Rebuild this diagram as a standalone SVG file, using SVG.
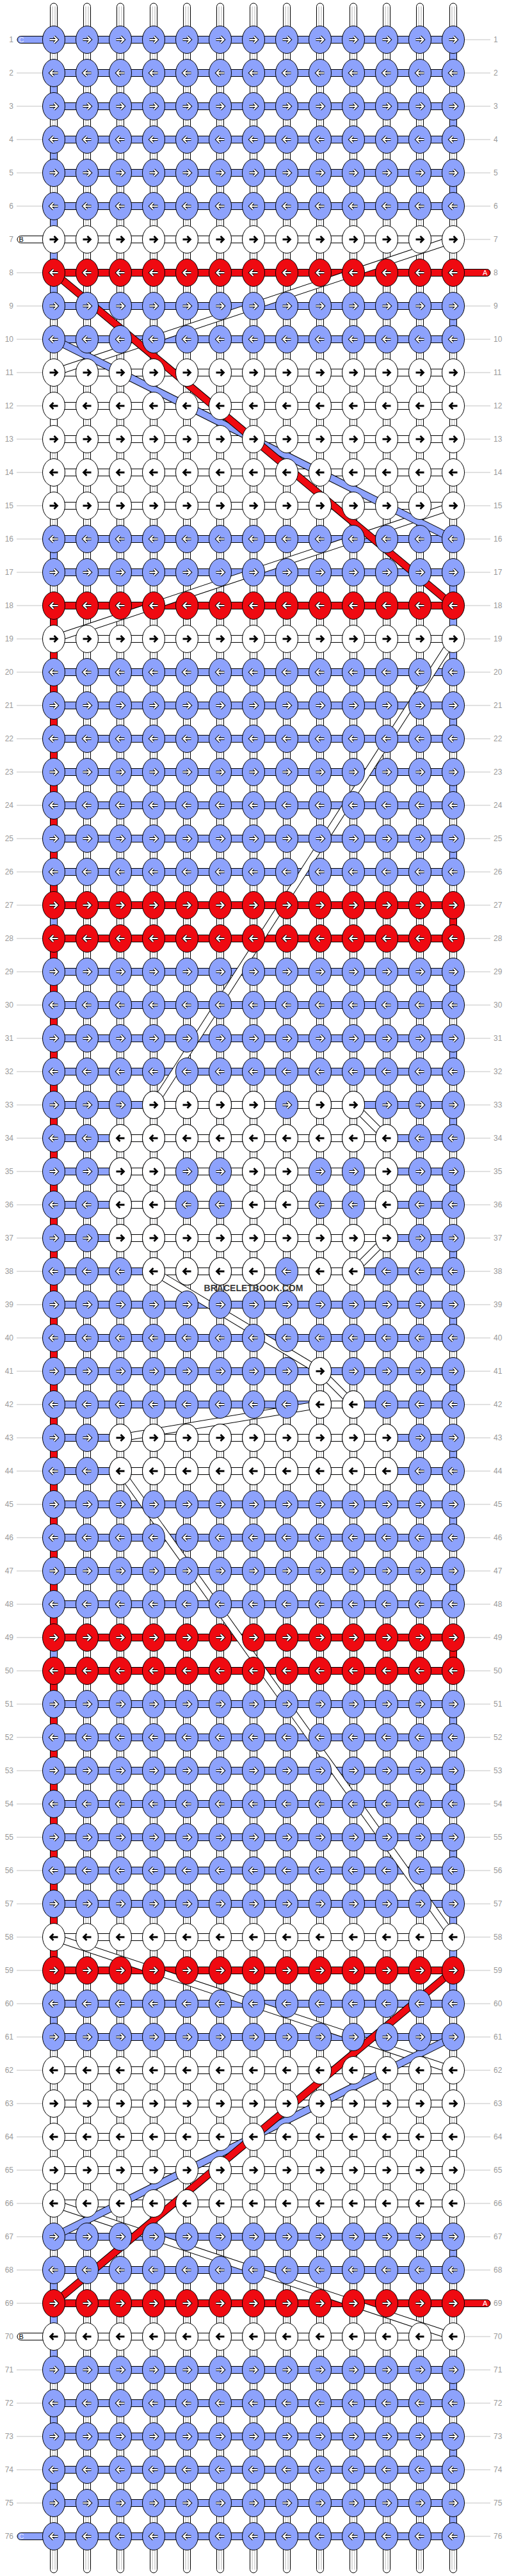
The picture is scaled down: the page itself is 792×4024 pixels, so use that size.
<svg xmlns="http://www.w3.org/2000/svg" xmlns:xlink="http://www.w3.org/1999/xlink" width="792" height="4024" viewBox="0 0 792 4024">
<style>
.n{font-family:"Liberation Sans",Arial,sans-serif;font-size:12px;fill:#9a9a9a}
.nl{text-anchor:end}
.ec{fill:#8DA2FC;stroke:#000;stroke-width:1}
.ea{fill:#EF0A11;stroke:#000;stroke-width:1}
.eb{fill:#fff;stroke:#000;stroke-width:1}
.pl{font-family:"Liberation Sans",Arial,sans-serif;font-size:11px}
.wm{font-family:"Liberation Sans",Arial,sans-serif;font-size:14px;font-weight:bold;fill:#3a3a3a;text-anchor:middle}
</style>
<defs>
<pattern id="gl" patternUnits="userSpaceOnUse" x="0" y="36" width="10" height="52"><rect x="0" y="25.5" width="10" height="1" fill="#c4c4c4"/></pattern>
<g id="vs"><rect x="-5.5" y="5" width="11" height="4014" rx="5.5" fill="#fff" stroke="#000"/><path d="M-2,10V4014M2,10V4014" stroke="#b4b4b4" fill="none"/></g>
<path id="pR" d="M-6.5,0H5.5M0.5,-5L5.5,0L0.5,5"/>
<path id="pL" d="M6.5,0H-5.5M-0.5,-5L-5.5,0L-0.5,5"/>
<g id="oR" fill="none"><use href="#pR" stroke="#000" stroke-width="4.2"/><use href="#pR" stroke="#fff" stroke-width="2.2"/></g>
<g id="oL" fill="none"><use href="#pL" stroke="#000" stroke-width="4.2"/><use href="#pL" stroke="#fff" stroke-width="2.2"/></g>
<g id="kCR"><ellipse rx="17.5" ry="21.5" fill="#8DA2FC" stroke="#000"/><use href="#oR"/></g>
<g id="kCL"><ellipse rx="17.5" ry="21.5" fill="#8DA2FC" stroke="#000"/><use href="#oL"/></g>
<g id="kAR"><ellipse rx="17.5" ry="21.5" fill="#EF0A11" stroke="#000"/><use href="#oR"/></g>
<g id="kAL"><ellipse rx="17.5" ry="21.5" fill="#EF0A11" stroke="#000"/><use href="#oL"/></g>
<g id="kBR"><ellipse rx="17.5" ry="21.5" fill="#fff" stroke="#000"/><use href="#pR" fill="none" stroke="#000" stroke-width="2.8"/></g>
<g id="kBL"><ellipse rx="17.5" ry="21.5" fill="#fff" stroke="#000"/><use href="#pL" fill="none" stroke="#000" stroke-width="2.8"/></g>
<g id="RCR"><use href="#kCR" x="84"/><use href="#kCR" x="136"/><use href="#kCR" x="188"/><use href="#kCR" x="240"/><use href="#kCR" x="292"/><use href="#kCR" x="344"/><use href="#kCR" x="396"/><use href="#kCR" x="448"/><use href="#kCR" x="500"/><use href="#kCR" x="552"/><use href="#kCR" x="604"/><use href="#kCR" x="656"/><use href="#kCR" x="708"/></g>
<g id="RCL"><use href="#kCL" x="84"/><use href="#kCL" x="136"/><use href="#kCL" x="188"/><use href="#kCL" x="240"/><use href="#kCL" x="292"/><use href="#kCL" x="344"/><use href="#kCL" x="396"/><use href="#kCL" x="448"/><use href="#kCL" x="500"/><use href="#kCL" x="552"/><use href="#kCL" x="604"/><use href="#kCL" x="656"/><use href="#kCL" x="708"/></g>
<g id="RAR"><use href="#kAR" x="84"/><use href="#kAR" x="136"/><use href="#kAR" x="188"/><use href="#kAR" x="240"/><use href="#kAR" x="292"/><use href="#kAR" x="344"/><use href="#kAR" x="396"/><use href="#kAR" x="448"/><use href="#kAR" x="500"/><use href="#kAR" x="552"/><use href="#kAR" x="604"/><use href="#kAR" x="656"/><use href="#kAR" x="708"/></g>
<g id="RAL"><use href="#kAL" x="84"/><use href="#kAL" x="136"/><use href="#kAL" x="188"/><use href="#kAL" x="240"/><use href="#kAL" x="292"/><use href="#kAL" x="344"/><use href="#kAL" x="396"/><use href="#kAL" x="448"/><use href="#kAL" x="500"/><use href="#kAL" x="552"/><use href="#kAL" x="604"/><use href="#kAL" x="656"/><use href="#kAL" x="708"/></g>
<g id="W9R"><use href="#kBR" x="188"/><use href="#kBR" x="240"/><use href="#kBR" x="292"/><use href="#kBR" x="344"/><use href="#kBR" x="396"/><use href="#kBR" x="448"/><use href="#kBR" x="500"/><use href="#kBR" x="552"/><use href="#kBR" x="604"/></g>
<g id="W9L"><use href="#kBL" x="188"/><use href="#kBL" x="240"/><use href="#kBL" x="292"/><use href="#kBL" x="344"/><use href="#kBL" x="396"/><use href="#kBL" x="448"/><use href="#kBL" x="500"/><use href="#kBL" x="552"/><use href="#kBL" x="604"/></g>
<g id="RBR"><use href="#kBR" x="84"/><use href="#kBR" x="136"/><use href="#W9R"/><use href="#kBR" x="656"/><use href="#kBR" x="708"/></g>
<g id="RBL"><use href="#kBL" x="84"/><use href="#kBL" x="136"/><use href="#W9L"/><use href="#kBL" x="656"/><use href="#kBL" x="708"/></g>
<rect id="BC" x="84" y="-5.5" width="624" height="11" fill="#8DA2FC" stroke="#000"/>
<rect id="BA" x="84" y="-5.5" width="624" height="11" fill="#EF0A11" stroke="#000"/>
<rect id="BB" x="84" y="-5.5" width="624" height="11" fill="#fff" stroke="#000"/>
</defs>
<rect width="792" height="4024" fill="#fff"/>
<g id="labels">
<rect x="26" y="40" width="40" height="3944" fill="url(#gl)"/>
<rect x="725" y="40" width="41" height="3944" fill="url(#gl)"/>
<g class="n nl">
<text x="21" y="66.3">1</text><text x="21" y="118.3">2</text><text x="21" y="170.3">3</text><text x="21" y="222.3">4</text><text x="21" y="274.3">5</text><text x="21" y="326.3">6</text><text x="21" y="378.3">7</text><text x="21" y="430.3">8</text><text x="21" y="482.3">9</text><text x="21" y="534.3">10</text><text x="21" y="586.3">11</text><text x="21" y="638.3">12</text><text x="21" y="690.3">13</text><text x="21" y="742.3">14</text><text x="21" y="794.3">15</text><text x="21" y="846.3">16</text><text x="21" y="898.3">17</text><text x="21" y="950.3">18</text><text x="21" y="1002.3">19</text><text x="21" y="1054.3">20</text><text x="21" y="1106.3">21</text><text x="21" y="1158.3">22</text><text x="21" y="1210.3">23</text><text x="21" y="1262.3">24</text><text x="21" y="1314.3">25</text><text x="21" y="1366.3">26</text><text x="21" y="1418.3">27</text><text x="21" y="1470.3">28</text><text x="21" y="1522.3">29</text><text x="21" y="1574.3">30</text><text x="21" y="1626.3">31</text><text x="21" y="1678.3">32</text><text x="21" y="1730.3">33</text><text x="21" y="1782.3">34</text><text x="21" y="1834.3">35</text><text x="21" y="1886.3">36</text><text x="21" y="1938.3">37</text><text x="21" y="1990.3">38</text><text x="21" y="2042.3">39</text><text x="21" y="2094.3">40</text><text x="21" y="2146.3">41</text><text x="21" y="2198.3">42</text><text x="21" y="2250.3">43</text><text x="21" y="2302.3">44</text><text x="21" y="2354.3">45</text><text x="21" y="2406.3">46</text><text x="21" y="2458.3">47</text><text x="21" y="2510.3">48</text><text x="21" y="2562.3">49</text><text x="21" y="2614.3">50</text><text x="21" y="2666.3">51</text><text x="21" y="2718.3">52</text><text x="21" y="2770.3">53</text><text x="21" y="2822.3">54</text><text x="21" y="2874.3">55</text><text x="21" y="2926.3">56</text><text x="21" y="2978.3">57</text><text x="21" y="3030.3">58</text><text x="21" y="3082.3">59</text><text x="21" y="3134.3">60</text><text x="21" y="3186.3">61</text><text x="21" y="3238.3">62</text><text x="21" y="3290.3">63</text><text x="21" y="3342.3">64</text><text x="21" y="3394.3">65</text><text x="21" y="3446.3">66</text><text x="21" y="3498.3">67</text><text x="21" y="3550.3">68</text><text x="21" y="3602.3">69</text><text x="21" y="3654.3">70</text><text x="21" y="3706.3">71</text><text x="21" y="3758.3">72</text><text x="21" y="3810.3">73</text><text x="21" y="3862.3">74</text><text x="21" y="3914.3">75</text><text x="21" y="3966.3">76</text>
</g>
<g class="n">
<text x="771" y="66.3">1</text><text x="771" y="118.3">2</text><text x="771" y="170.3">3</text><text x="771" y="222.3">4</text><text x="771" y="274.3">5</text><text x="771" y="326.3">6</text><text x="771" y="378.3">7</text><text x="771" y="430.3">8</text><text x="771" y="482.3">9</text><text x="771" y="534.3">10</text><text x="771" y="586.3">11</text><text x="771" y="638.3">12</text><text x="771" y="690.3">13</text><text x="771" y="742.3">14</text><text x="771" y="794.3">15</text><text x="771" y="846.3">16</text><text x="771" y="898.3">17</text><text x="771" y="950.3">18</text><text x="771" y="1002.3">19</text><text x="771" y="1054.3">20</text><text x="771" y="1106.3">21</text><text x="771" y="1158.3">22</text><text x="771" y="1210.3">23</text><text x="771" y="1262.3">24</text><text x="771" y="1314.3">25</text><text x="771" y="1366.3">26</text><text x="771" y="1418.3">27</text><text x="771" y="1470.3">28</text><text x="771" y="1522.3">29</text><text x="771" y="1574.3">30</text><text x="771" y="1626.3">31</text><text x="771" y="1678.3">32</text><text x="771" y="1730.3">33</text><text x="771" y="1782.3">34</text><text x="771" y="1834.3">35</text><text x="771" y="1886.3">36</text><text x="771" y="1938.3">37</text><text x="771" y="1990.3">38</text><text x="771" y="2042.3">39</text><text x="771" y="2094.3">40</text><text x="771" y="2146.3">41</text><text x="771" y="2198.3">42</text><text x="771" y="2250.3">43</text><text x="771" y="2302.3">44</text><text x="771" y="2354.3">45</text><text x="771" y="2406.3">46</text><text x="771" y="2458.3">47</text><text x="771" y="2510.3">48</text><text x="771" y="2562.3">49</text><text x="771" y="2614.3">50</text><text x="771" y="2666.3">51</text><text x="771" y="2718.3">52</text><text x="771" y="2770.3">53</text><text x="771" y="2822.3">54</text><text x="771" y="2874.3">55</text><text x="771" y="2926.3">56</text><text x="771" y="2978.3">57</text><text x="771" y="3030.3">58</text><text x="771" y="3082.3">59</text><text x="771" y="3134.3">60</text><text x="771" y="3186.3">61</text><text x="771" y="3238.3">62</text><text x="771" y="3290.3">63</text><text x="771" y="3342.3">64</text><text x="771" y="3394.3">65</text><text x="771" y="3446.3">66</text><text x="771" y="3498.3">67</text><text x="771" y="3550.3">68</text><text x="771" y="3602.3">69</text><text x="771" y="3654.3">70</text><text x="771" y="3706.3">71</text><text x="771" y="3758.3">72</text><text x="771" y="3810.3">73</text><text x="771" y="3862.3">74</text><text x="771" y="3914.3">75</text><text x="771" y="3966.3">76</text>
</g>
</g>
<g id="strings">
<use href="#vs" x="84"/><use href="#vs" x="136"/><use href="#vs" x="188"/><use href="#vs" x="240"/><use href="#vs" x="292"/><use href="#vs" x="344"/><use href="#vs" x="396"/><use href="#vs" x="448"/><use href="#vs" x="500"/><use href="#vs" x="552"/><use href="#vs" x="604"/><use href="#vs" x="656"/><use href="#vs" x="708"/>
</g>
<g id="edge-turns">
<rect class="ea" x="78.5" y="946" width="11" height="468"/>
<rect class="ea" x="78.5" y="1466" width="11" height="1092"/>
<rect class="ea" x="78.5" y="2610" width="11" height="468"/>
<rect class="ec" x="78.5" y="114" width="11" height="52"/>
<rect class="ec" x="78.5" y="218" width="11" height="52"/>
<rect class="ec" x="78.5" y="322" width="11" height="156"/>
<rect class="ec" x="78.5" y="842" width="11" height="52"/>
<rect class="ec" x="78.5" y="1414" width="11" height="52"/>
<rect class="ec" x="78.5" y="2558" width="11" height="52"/>
<rect class="ec" x="78.5" y="3130" width="11" height="52"/>
<rect class="ec" x="78.5" y="3546" width="11" height="156"/>
<rect class="ec" x="78.5" y="3754" width="11" height="52"/>
<rect class="ec" x="78.5" y="3858" width="11" height="52"/>
<rect class="eb" x="78.5" y="634" width="11" height="52"/>
<rect class="eb" x="78.5" y="738" width="11" height="52"/>
<rect class="eb" x="78.5" y="3286" width="11" height="52"/>
<rect class="eb" x="78.5" y="3390" width="11" height="52"/>
<rect class="ea" x="702.5" y="1414" width="11" height="52"/>
<rect class="ea" x="702.5" y="2558" width="11" height="52"/>
<rect class="ec" x="702.5" y="62" width="11" height="52"/>
<rect class="ec" x="702.5" y="166" width="11" height="52"/>
<rect class="ec" x="702.5" y="270" width="11" height="52"/>
<rect class="ec" x="702.5" y="478" width="11" height="52"/>
<rect class="ec" x="702.5" y="894" width="11" height="156"/>
<rect class="ec" x="702.5" y="1102" width="11" height="52"/>
<rect class="ec" x="702.5" y="1206" width="11" height="52"/>
<rect class="ec" x="702.5" y="1310" width="11" height="52"/>
<rect class="ec" x="702.5" y="1518" width="11" height="52"/>
<rect class="ec" x="702.5" y="1622" width="11" height="52"/>
<rect class="ec" x="702.5" y="1726" width="11" height="52"/>
<rect class="ec" x="702.5" y="1830" width="11" height="52"/>
<rect class="ec" x="702.5" y="1934" width="11" height="52"/>
<rect class="ec" x="702.5" y="2038" width="11" height="52"/>
<rect class="ec" x="702.5" y="2142" width="11" height="52"/>
<rect class="ec" x="702.5" y="2246" width="11" height="52"/>
<rect class="ec" x="702.5" y="2350" width="11" height="52"/>
<rect class="ec" x="702.5" y="2454" width="11" height="52"/>
<rect class="ec" x="702.5" y="2662" width="11" height="52"/>
<rect class="ec" x="702.5" y="2766" width="11" height="52"/>
<rect class="ec" x="702.5" y="2870" width="11" height="52"/>
<rect class="ec" x="702.5" y="2974" width="11" height="156"/>
<rect class="ec" x="702.5" y="3494" width="11" height="52"/>
<rect class="ec" x="702.5" y="3702" width="11" height="52"/>
<rect class="ec" x="702.5" y="3806" width="11" height="52"/>
<rect class="ec" x="702.5" y="3910" width="11" height="52"/>
<rect class="eb" x="702.5" y="582" width="11" height="52"/>
<rect class="eb" x="702.5" y="686" width="11" height="52"/>
<rect class="eb" x="702.5" y="3234" width="11" height="52"/>
<rect class="eb" x="702.5" y="3338" width="11" height="52"/>
</g>
<g id="bands">
<use href="#BC" y="62"/><use href="#BC" y="114"/><use href="#BC" y="166"/><use href="#BC" y="218"/><use href="#BC" y="270"/><use href="#BC" y="322"/><use href="#BB" y="374"/><use href="#BA" y="426"/><use href="#BC" y="478"/><use href="#BC" y="530"/><use href="#BB" y="582"/><use href="#BB" y="634"/><use href="#BB" y="686"/><use href="#BB" y="738"/><use href="#BB" y="790"/><use href="#BC" y="842"/><use href="#BC" y="894"/><use href="#BA" y="946"/><use href="#BB" y="998"/><use href="#BC" y="1050"/><use href="#BC" y="1102"/><use href="#BC" y="1154"/><use href="#BC" y="1206"/><use href="#BC" y="1258"/><use href="#BC" y="1310"/><use href="#BC" y="1362"/><use href="#BA" y="1414"/><use href="#BA" y="1466"/><use href="#BC" y="1518"/><use href="#BC" y="1570"/><use href="#BC" y="1622"/><use href="#BC" y="1674"/><use href="#BC" y="1726"/><use href="#BC" y="1778"/><use href="#BC" y="1830"/><use href="#BC" y="1882"/><use href="#BC" y="1934"/><use href="#BC" y="1986"/><use href="#BC" y="2038"/><use href="#BC" y="2090"/><use href="#BC" y="2142"/><use href="#BC" y="2194"/><use href="#BC" y="2246"/><use href="#BC" y="2298"/><use href="#BC" y="2350"/><use href="#BC" y="2402"/><use href="#BC" y="2454"/><use href="#BC" y="2506"/><use href="#BA" y="2558"/><use href="#BA" y="2610"/><use href="#BC" y="2662"/><use href="#BC" y="2714"/><use href="#BC" y="2766"/><use href="#BC" y="2818"/><use href="#BC" y="2870"/><use href="#BC" y="2922"/><use href="#BC" y="2974"/><use href="#BB" y="3026"/><use href="#BA" y="3078"/><use href="#BC" y="3130"/><use href="#BC" y="3182"/><use href="#BB" y="3234"/><use href="#BB" y="3286"/><use href="#BB" y="3338"/><use href="#BB" y="3390"/><use href="#BB" y="3442"/><use href="#BC" y="3494"/><use href="#BC" y="3546"/><use href="#BA" y="3598"/><use href="#BB" y="3650"/><use href="#BC" y="3702"/><use href="#BC" y="3754"/><use href="#BC" y="3806"/><use href="#BC" y="3858"/><use href="#BC" y="3910"/><use href="#BC" y="3962"/>
<g fill="#fff" stroke="#000">
<rect x="240" y="1720.5" width="312" height="11"/>
<rect x="188" y="1772.5" width="416" height="11"/>
<rect x="188" y="1824.5" width="416" height="11"/>
<rect x="188" y="1876.5" width="416" height="11"/>
<rect x="188" y="1928.5" width="416" height="11"/>
<rect x="240" y="1980.5" width="312" height="11"/>
<rect x="500" y="2188.5" width="52" height="11"/>
<rect x="188" y="2240.5" width="416" height="11"/>
<rect x="188" y="2292.5" width="416" height="11"/>
</g>
</g>
<g id="ends">
<rect x="27" y="56.5" width="60" height="11" rx="5.5" fill="#8DA2FC" stroke="#000"/>
<text class="pl" x="29.5" y="66" fill="#e8ecff">C</text>
<rect x="27" y="368.5" width="60" height="11" rx="5.5" fill="#fff" stroke="#000"/>
<text class="pl" x="29.5" y="378" fill="#000">B</text>
<rect x="705" y="420.5" width="61" height="11" rx="5.5" fill="#EF0A11" stroke="#000"/>
<text class="pl" x="754" y="430" fill="#fff">A</text>
<rect x="705" y="3592.5" width="61" height="11" rx="5.5" fill="#EF0A11" stroke="#000"/>
<text class="pl" x="754" y="3602" fill="#fff">A</text>
<rect x="27" y="3644.5" width="60" height="11" rx="5.5" fill="#fff" stroke="#000"/>
<text class="pl" x="29.5" y="3654" fill="#000">B</text>
<rect x="27" y="3956.5" width="60" height="11" rx="5.5" fill="#8DA2FC" stroke="#000"/>
<text class="pl" x="29.5" y="3966" fill="#e8ecff">C</text>
</g>
<g id="connectors" fill="none">
<g stroke-width="10"></g>
<line x1="708" y1="374" x2="84" y2="582" stroke="#000" stroke-width="12"/><line x1="708" y1="374" x2="84" y2="582" stroke="#fff" stroke-width="10"/>
<line x1="708" y1="790" x2="84" y2="998" stroke="#000" stroke-width="12"/><line x1="708" y1="790" x2="84" y2="998" stroke="#fff" stroke-width="10"/>
<line x1="708" y1="998" x2="240" y2="1726" stroke="#000" stroke-width="12"/><line x1="708" y1="998" x2="240" y2="1726" stroke="#fff" stroke-width="10"/>
<line x1="552" y1="1726" x2="604" y2="1778" stroke="#000" stroke-width="12"/><line x1="552" y1="1726" x2="604" y2="1778" stroke="#fff" stroke-width="10"/>
<line x1="604" y1="1934" x2="552" y2="1986" stroke="#000" stroke-width="12"/><line x1="604" y1="1934" x2="552" y2="1986" stroke="#fff" stroke-width="10"/>
<line x1="240" y1="1986" x2="500" y2="2142" stroke="#000" stroke-width="12"/><line x1="240" y1="1986" x2="500" y2="2142" stroke="#fff" stroke-width="10"/>
<line x1="500" y1="2142" x2="552" y2="2194" stroke="#000" stroke-width="12"/><line x1="500" y1="2142" x2="552" y2="2194" stroke="#fff" stroke-width="10"/>
<line x1="500" y1="2194" x2="188" y2="2246" stroke="#000" stroke-width="12"/><line x1="500" y1="2194" x2="188" y2="2246" stroke="#fff" stroke-width="10"/>
<line x1="188" y1="2298" x2="708" y2="3026" stroke="#000" stroke-width="12"/><line x1="188" y1="2298" x2="708" y2="3026" stroke="#fff" stroke-width="10"/>
<line x1="84" y1="3026" x2="708" y2="3234" stroke="#000" stroke-width="12"/><line x1="84" y1="3026" x2="708" y2="3234" stroke="#fff" stroke-width="10"/>
<line x1="84" y1="3442" x2="708" y2="3650" stroke="#000" stroke-width="12"/><line x1="84" y1="3442" x2="708" y2="3650" stroke="#fff" stroke-width="10"/>
<line x1="84" y1="530" x2="708" y2="842" stroke="#000" stroke-width="12"/><line x1="84" y1="530" x2="708" y2="842" stroke="#8DA2FC" stroke-width="10"/>
<line x1="708" y1="3182" x2="84" y2="3494" stroke="#000" stroke-width="12"/><line x1="708" y1="3182" x2="84" y2="3494" stroke="#8DA2FC" stroke-width="10"/>
<line x1="84" y1="426" x2="708" y2="946" stroke="#000" stroke-width="12"/><line x1="84" y1="426" x2="708" y2="946" stroke="#EF0A11" stroke-width="10"/>
<line x1="708" y1="3078" x2="84" y2="3598" stroke="#000" stroke-width="12"/><line x1="708" y1="3078" x2="84" y2="3598" stroke="#EF0A11" stroke-width="10"/>
</g>
<g id="knots">
<g id="row-1"><use href="#RCR" y="62"/></g>
<g id="row-2"><use href="#RCL" y="114"/></g>
<g id="row-3"><use href="#RCR" y="166"/></g>
<g id="row-4"><use href="#RCL" y="218"/></g>
<g id="row-5"><use href="#RCR" y="270"/></g>
<g id="row-6"><use href="#RCL" y="322"/></g>
<g id="row-7"><use href="#RBR" y="374"/></g>
<g id="row-8"><use href="#RAL" y="426"/></g>
<g id="row-9"><use href="#RCR" y="478"/></g>
<g id="row-10"><use href="#RCL" y="530"/></g>
<g id="row-11"><use href="#RBR" y="582"/></g>
<g id="row-12"><use href="#RBL" y="634"/></g>
<g id="row-13"><use href="#RBR" y="686"/></g>
<g id="row-14"><use href="#RBL" y="738"/></g>
<g id="row-15"><use href="#RBR" y="790"/></g>
<g id="row-16"><use href="#RCL" y="842"/></g>
<g id="row-17"><use href="#RCR" y="894"/></g>
<g id="row-18"><use href="#RAL" y="946"/></g>
<g id="row-19"><use href="#RBR" y="998"/></g>
<g id="row-20"><use href="#RCL" y="1050"/></g>
<g id="row-21"><use href="#RCR" y="1102"/></g>
<g id="row-22"><use href="#RCL" y="1154"/></g>
<g id="row-23"><use href="#RCR" y="1206"/></g>
<g id="row-24"><use href="#RCL" y="1258"/></g>
<g id="row-25"><use href="#RCR" y="1310"/></g>
<g id="row-26"><use href="#RCL" y="1362"/></g>
<g id="row-27"><use href="#RAR" y="1414"/></g>
<g id="row-28"><use href="#RAL" y="1466"/></g>
<g id="row-29"><use href="#RCR" y="1518"/></g>
<g id="row-30"><use href="#RCL" y="1570"/></g>
<g id="row-31"><use href="#RCR" y="1622"/></g>
<g id="row-32"><use href="#RCL" y="1674"/></g>
<g id="row-33"><use href="#RCR" y="1726"/><use href="#kBR" x="240" y="1726"/><use href="#kBR" x="292" y="1726"/><use href="#kBR" x="344" y="1726"/><use href="#kBR" x="396" y="1726"/><use href="#kBR" x="500" y="1726"/><use href="#kBR" x="552" y="1726"/></g>
<g id="row-34"><use href="#RCL" y="1778"/><use href="#W9L" y="1778"/></g>
<g id="row-35"><use href="#RCR" y="1830"/><use href="#kBR" x="188" y="1830"/><use href="#kBR" x="240" y="1830"/><use href="#kBR" x="396" y="1830"/><use href="#kBR" x="448" y="1830"/><use href="#kBR" x="604" y="1830"/></g>
<g id="row-36"><use href="#RCL" y="1882"/><use href="#kBL" x="188" y="1882"/><use href="#kBL" x="240" y="1882"/><use href="#kBL" x="396" y="1882"/><use href="#kBL" x="448" y="1882"/><use href="#kBL" x="604" y="1882"/></g>
<g id="row-37"><use href="#RCR" y="1934"/><use href="#W9R" y="1934"/></g>
<g id="row-38"><use href="#RCL" y="1986"/><use href="#kBL" x="240" y="1986"/><use href="#kBL" x="292" y="1986"/><use href="#kBL" x="344" y="1986"/><use href="#kBL" x="396" y="1986"/><use href="#kBL" x="500" y="1986"/><use href="#kBL" x="552" y="1986"/></g>
<g id="row-39"><use href="#RCR" y="2038"/></g>
<g id="row-40"><use href="#RCL" y="2090"/></g>
<g id="row-41"><use href="#RCR" y="2142"/><use href="#kBR" x="500" y="2142"/></g>
<g id="row-42"><use href="#RCL" y="2194"/><use href="#kBL" x="500" y="2194"/><use href="#kBL" x="552" y="2194"/></g>
<g id="row-43"><use href="#RCR" y="2246"/><use href="#W9R" y="2246"/></g>
<g id="row-44"><use href="#RCL" y="2298"/><use href="#W9L" y="2298"/></g>
<g id="row-45"><use href="#RCR" y="2350"/></g>
<g id="row-46"><use href="#RCL" y="2402"/></g>
<g id="row-47"><use href="#RCR" y="2454"/></g>
<g id="row-48"><use href="#RCL" y="2506"/></g>
<g id="row-49"><use href="#RAR" y="2558"/></g>
<g id="row-50"><use href="#RAL" y="2610"/></g>
<g id="row-51"><use href="#RCR" y="2662"/></g>
<g id="row-52"><use href="#RCL" y="2714"/></g>
<g id="row-53"><use href="#RCR" y="2766"/></g>
<g id="row-54"><use href="#RCL" y="2818"/></g>
<g id="row-55"><use href="#RCR" y="2870"/></g>
<g id="row-56"><use href="#RCL" y="2922"/></g>
<g id="row-57"><use href="#RCR" y="2974"/></g>
<g id="row-58"><use href="#RBL" y="3026"/></g>
<g id="row-59"><use href="#RAR" y="3078"/></g>
<g id="row-60"><use href="#RCL" y="3130"/></g>
<g id="row-61"><use href="#RCR" y="3182"/></g>
<g id="row-62"><use href="#RBL" y="3234"/></g>
<g id="row-63"><use href="#RBR" y="3286"/></g>
<g id="row-64"><use href="#RBL" y="3338"/></g>
<g id="row-65"><use href="#RBR" y="3390"/></g>
<g id="row-66"><use href="#RBL" y="3442"/></g>
<g id="row-67"><use href="#RCR" y="3494"/></g>
<g id="row-68"><use href="#RCL" y="3546"/></g>
<g id="row-69"><use href="#RAR" y="3598"/></g>
<g id="row-70"><use href="#RBL" y="3650"/></g>
<g id="row-71"><use href="#RCR" y="3702"/></g>
<g id="row-72"><use href="#RCL" y="3754"/></g>
<g id="row-73"><use href="#RCR" y="3806"/></g>
<g id="row-74"><use href="#RCL" y="3858"/></g>
<g id="row-75"><use href="#RCR" y="3910"/></g>
<g id="row-76"><use href="#RCL" y="3962"/></g>
</g>
<text class="wm" x="396" y="2016.5">BRACELETBOOK.COM</text>
</svg>
